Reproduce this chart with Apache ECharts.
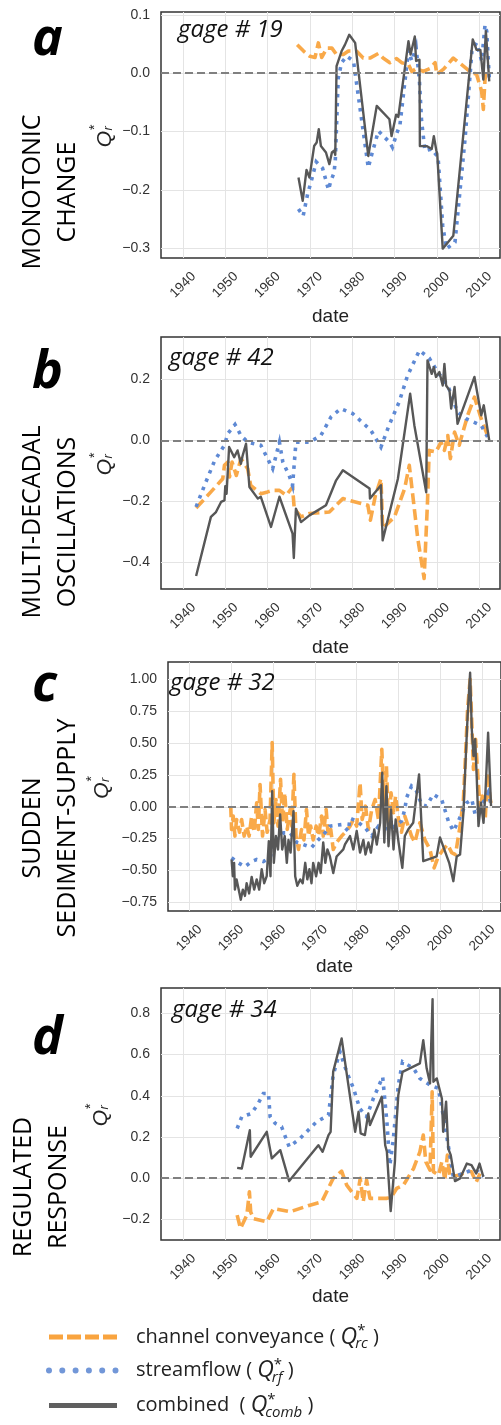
<!DOCTYPE html>
<html><head><meta charset="utf-8">
<script src="https://cdn.jsdelivr.net/npm/echarts@6/dist/echarts.min.js"></script>
<style>html,body{margin:0;padding:0;background:#fff}#c{width:501px;height:1425px}</style>
</head><body><div id="c"></div><script>
// ---------- tick labels ----------
const xTicks = [1940, 1950, 1960, 1970, 1980, 1990, 2000, 2010];
const yTicksA = [-0.3, -0.2, -0.1, 0.0, 0.1];
const yTicksB = [-0.4, -0.2, 0.0, 0.2];
const yTicksC = [-0.75, -0.5, -0.25, 0.0, 0.25, 0.5, 0.75, 1.0];
const yTicksD = [-0.2, 0.0, 0.2, 0.4, 0.6, 0.8];
const panelLetters = ['a', 'b', 'c', 'd'];
const panelTitles = ['MONOTONIC\nCHANGE', 'MULTI-DECADAL\nOSCILLATIONS', 'SUDDEN\nSEDIMENT-SUPPLY', 'REGULATED\nRESPONSE'];
const gageLabels = ['gage # 19', 'gage # 42', 'gage # 32', 'gage # 34'];
const legendNames = ['channel conveyance ( ', 'streamflow ( ', 'combined  ( '];
const legendSubs = ['rc', 'rf', 'comb'];

// ---------- panel a : gage 19 ----------
const convA = [[1967.0,0.049],[1968.5,0.038],[1970.0,0.029],[1971.2,0.027],[1972.0,0.052],[1972.8,0.027],[1974.0,0.043],[1975.2,0.043],[1976.3,0.032],[1977.9,0.032],[1979.1,0.038],[1981.0,0.038],[1982.6,0.026],[1984.2,0.026],[1986.2,0.034],[1987.3,0.026],[1988.9,0.018],[1990.5,0.025],[1991.7,0.018],[1993.3,0.015],[1994.1,0.003],[1995.2,0.008],[1996.8,0.003],[1998.4,0.008],[1999.6,0.018],[2000.0,-0.002],[2001.6,0.007],[2003.9,0.026],[2005.8,0.015],[2007.8,0.003],[2009.4,-0.002],[2010.6,-0.031],[2011.0,-0.062],[2011.4,-0.010],[2011.9,0.008]];
const flowA = [[1967.3,-0.233],[1968.4,-0.245],[1969.5,-0.206],[1970.3,-0.186],[1971.5,-0.152],[1973.0,-0.163],[1974.4,-0.200],[1974.9,-0.186],[1975.7,-0.171],[1976.0,-0.150],[1976.7,-0.008],[1977.5,0.018],[1978.7,0.029],[1980.3,0.021],[1983.8,-0.162],[1984.6,-0.140],[1986.2,-0.099],[1988.9,-0.119],[1989.5,-0.127],[1990.5,-0.104],[1991.3,-0.088],[1993.3,0.039],[1994.1,0.021],[1995.1,0.045],[1995.9,-0.014],[1996.4,-0.082],[1997.2,-0.133],[1998.8,-0.130],[2000.3,-0.144],[2001.4,-0.262],[2002.3,-0.301],[2004.3,-0.290],[2006.7,-0.111],[2008.3,0.038],[2009.4,0.052],[2010.6,0.021],[2011.4,0.083],[2011.8,0.072],[2012.4,-0.008]];
const combA = [[1967.3,-0.179],[1968.3,-0.219],[1969.2,-0.166],[1969.9,-0.179],[1971.0,-0.125],[1971.6,-0.119],[1972.1,-0.096],[1972.6,-0.125],[1973.8,-0.136],[1974.6,-0.156],[1975.2,-0.136],[1975.7,-0.133],[1976.0,-0.140],[1976.3,0.012],[1977.5,0.038],[1978.3,0.049],[1979.3,0.066],[1980.7,0.052],[1983.8,-0.142],[1985.8,-0.056],[1988.8,-0.079],[1989.3,-0.108],[1990.4,-0.071],[1990.9,-0.075],[1993.3,0.055],[1993.8,0.032],[1994.8,0.063],[1995.1,0.021],[1995.9,0.023],[1996.0,-0.125],[1997.6,-0.125],[1998.8,-0.130],[1999.3,-0.108],[1999.9,-0.133],[2000.1,-0.138],[2001.4,-0.301],[2003.9,-0.279],[2008.5,0.058],[2009.4,0.040],[2010.3,0.040],[2011.0,-0.011],[2011.6,0.072],[2011.8,0.072],[2012.4,-0.014]];

// ---------- panel b : gage 42 ----------
const convB = [[1943.1,-0.222],[1946.6,-0.169],[1949.4,-0.126],[1949.8,-0.082],[1950.6,-0.071],[1951.0,-0.120],[1951.6,-0.071],[1952.6,-0.115],[1953.7,-0.060],[1955.3,-0.093],[1956.0,-0.148],[1958.4,-0.175],[1960.0,-0.169],[1961.2,-0.164],[1962.8,-0.164],[1964.4,-0.180],[1965.9,-0.153],[1966.3,-0.224],[1967.9,-0.251],[1969.9,-0.240],[1974.6,-0.235],[1977.8,-0.191],[1983.7,-0.213],[1984.3,-0.262],[1985.5,-0.180],[1986.8,-0.126],[1987.2,-0.289],[1990.0,-0.251],[1992.4,-0.158],[1993.5,-0.082],[1995.5,-0.322],[1997.0,-0.453],[1997.8,-0.202],[1998.2,-0.033],[1999.8,-0.038],[2001.0,-0.006],[2001.8,-0.033],[2002.6,0.016],[2003.2,-0.060],[2004.2,0.027],[2005.3,-0.016],[2007.3,0.082],[2008.9,0.142],[2010.5,0.071],[2012.0,0.016]];
const flowB = [[1943.1,-0.218],[1945.1,-0.147],[1947.5,-0.066],[1949.8,-0.016],[1950.6,0.022],[1952.3,0.052],[1953.7,0.016],[1955.3,-0.006],[1958.4,-0.016],[1960.0,-0.060],[1961.2,-0.093],[1962.8,-0.006],[1963.6,-0.071],[1965.1,-0.115],[1965.9,-0.148],[1966.7,-0.006],[1969.9,-0.006],[1972.6,0.016],[1975.0,0.077],[1977.3,0.104],[1980.1,0.088],[1984.4,0.033],[1986.8,-0.022],[1988.7,0.049],[1991.1,0.126],[1993.1,0.213],[1995.9,0.295],[1998.2,0.270],[2000.2,0.224],[2002.6,0.180],[2004.9,0.093],[2006.9,0.071],[2010.5,0.049],[2012.0,0.011]];
const combB = [[1943.1,-0.445],[1946.6,-0.251],[1947.8,-0.235],[1949.0,-0.202],[1949.8,-0.197],[1950.0,-0.150],[1950.3,-0.175],[1950.9,-0.022],[1952.1,-0.055],[1952.9,-0.033],[1953.7,-0.077],[1954.1,-0.050],[1954.9,-0.011],[1955.7,-0.153],[1957.7,-0.191],[1958.4,-0.185],[1960.8,-0.284],[1962.8,-0.185],[1965.9,-0.306],[1966.2,-0.386],[1966.7,-0.224],[1967.9,-0.268],[1969.9,-0.246],[1973.8,-0.213],[1976.2,-0.131],[1977.8,-0.098],[1984.1,-0.158],[1984.2,-0.191],[1986.8,-0.147],[1987.2,-0.328],[1990.8,-0.126],[1993.7,0.153],[1994.7,0.049],[1997.5,-0.170],[1997.8,0.262],[1998.8,0.218],[1999.3,0.240],[1999.8,0.208],[2000.6,0.224],[2001.4,0.180],[2001.8,0.251],[2002.2,0.180],[2003.0,0.164],[2003.4,0.104],[2004.2,0.175],[2004.9,0.054],[2008.9,0.208],[2010.5,0.082],[2011.1,0.115],[2012.4,0.000]];

// ---------- panel c : gage 32 ----------
const convC = [[1949.9,0.005],[1950.1,-0.178],[1950.5,-0.073],[1950.9,-0.230],[1951.3,-0.100],[1952.0,-0.200],[1952.5,-0.100],[1953.1,-0.230],[1953.7,-0.152],[1954.3,-0.230],[1954.9,-0.073],[1955.5,-0.200],[1956.1,0.031],[1956.5,-0.178],[1956.9,0.175],[1957.5,-0.230],[1958.1,-0.021],[1958.6,-0.200],[1959.3,-0.100],[1959.8,0.503],[1960.2,-0.126],[1960.7,0.057],[1961.2,-0.152],[1961.8,0.215],[1962.3,-0.126],[1962.8,0.110],[1963.4,-0.178],[1964.1,-0.021],[1964.5,-0.152],[1965.0,0.254],[1965.5,-0.230],[1966.1,-0.335],[1966.8,-0.178],[1967.4,-0.260],[1968.0,-0.021],[1968.5,-0.230],[1969.0,-0.152],[1969.6,-0.260],[1970.3,-0.152],[1970.9,-0.230],[1971.6,-0.073],[1972.0,-0.230],[1972.7,-0.021],[1973.2,-0.230],[1973.8,-0.178],[1974.4,-0.335],[1975.2,-0.280],[1976.4,-0.230],[1977.6,-0.190],[1978.4,-0.152],[1979.2,-0.100],[1980.0,-0.152],[1980.8,0.188],[1981.3,-0.100],[1982.1,0.005],[1982.8,-0.178],[1983.6,-0.021],[1984.4,0.057],[1985.2,-0.100],[1986.0,0.450],[1986.6,-0.047],[1987.1,0.319],[1987.6,-0.126],[1988.2,0.110],[1988.8,-0.047],[1989.3,0.084],[1990.0,-0.100],[1990.7,-0.200],[1991.5,-0.073],[1993.1,-0.230],[1993.9,-0.280],[1995.1,-0.126],[1996.3,-0.260],[1997.5,-0.335],[1998.5,-0.480],[1999.5,-0.390],[2000.7,-0.335],[2001.7,-0.296],[2002.7,-0.360],[2003.6,-0.375],[2004.7,-0.152],[2005.5,0.057],[2006.0,0.398],[2006.5,0.765],[2007.1,1.000],[2007.5,0.660],[2007.9,0.293],[2008.4,0.530],[2008.9,0.267],[2009.5,-0.021],[2010.0,0.084],[2010.7,-0.100],[2011.3,0.267],[2011.8,0.084],[2012.2,0.005]];
const flowC = [[1950.1,-0.400],[1951.7,-0.440],[1953.3,-0.470],[1954.9,-0.430],[1956.1,-0.414],[1957.7,-0.430],[1959.3,-0.400],[1960.5,-0.270],[1962.5,-0.205],[1964.1,-0.205],[1965.7,-0.280],[1967.2,-0.296],[1969.2,-0.320],[1970.8,-0.260],[1972.4,-0.205],[1973.6,-0.152],[1976.4,-0.140],[1978.0,-0.190],[1978.4,-0.090],[1980.0,-0.113],[1982.0,-0.165],[1983.6,-0.230],[1985.2,-0.152],[1987.6,-0.178],[1989.1,-0.152],[1990.7,-0.113],[1991.5,-0.021],[1991.9,0.070],[1993.1,0.162],[1994.3,0.123],[1995.5,0.018],[1996.7,0.005],[1998.3,0.097],[2000.3,0.057],[2001.9,-0.113],[2003.1,-0.190],[2004.3,-0.113],[2005.5,-0.021],[2006.3,0.031],[2007.5,0.057],[2008.3,-0.060],[2009.5,0.005],[2010.7,0.057],[2011.4,0.110],[2012.2,0.005]];
const combC = [[1950.1,-0.414],[1950.4,-0.545],[1950.7,-0.440],[1950.9,-0.650],[1951.3,-0.570],[1952.0,-0.680],[1952.3,-0.730],[1952.8,-0.650],[1953.3,-0.700],[1953.7,-0.600],[1954.3,-0.680],[1954.9,-0.550],[1955.5,-0.650],[1956.1,-0.570],[1956.7,-0.650],[1957.3,-0.490],[1957.9,-0.600],[1958.5,-0.545],[1959.0,-0.270],[1959.4,-0.545],[1959.8,0.123],[1960.2,-0.440],[1960.7,-0.230],[1961.2,-0.335],[1961.7,-0.060],[1962.2,-0.335],[1962.8,-0.230],[1963.3,-0.440],[1963.7,-0.260],[1964.2,-0.360],[1964.9,-0.034],[1965.3,-0.545],[1965.8,-0.620],[1966.5,-0.570],[1967.1,-0.600],[1967.7,-0.440],[1968.2,-0.570],[1968.7,-0.490],[1969.2,-0.600],[1969.6,-0.440],[1970.3,-0.545],[1970.9,-0.440],[1971.4,-0.520],[1972.0,-0.280],[1972.5,-0.440],[1973.0,-0.335],[1973.6,-0.390],[1974.4,-0.520],[1975.2,-0.390],[1976.8,-0.335],[1977.2,-0.296],[1978.4,-0.230],[1979.2,-0.335],[1980.0,-0.190],[1980.8,-0.360],[1981.6,-0.260],[1982.1,-0.375],[1982.8,-0.280],[1983.4,-0.360],[1984.2,-0.178],[1984.8,-0.296],[1985.6,-0.126],[1986.1,0.267],[1986.6,-0.280],[1987.1,0.162],[1987.6,-0.310],[1988.2,-0.021],[1988.8,-0.335],[1989.3,-0.100],[1990.0,-0.280],[1990.9,-0.480],[1991.5,-0.230],[1992.3,-0.178],[1993.5,-0.126],[1994.9,0.254],[1995.9,-0.427],[1998.3,-0.400],[1999.1,-0.390],[1999.9,-0.240],[2001.1,-0.350],[2002.1,-0.440],[2003.1,-0.584],[2003.9,-0.390],[2004.7,-0.375],[2005.5,-0.047],[2006.0,0.345],[2006.5,0.712],[2007.1,1.052],[2007.5,0.607],[2007.9,0.398],[2008.3,0.530],[2008.7,0.215],[2009.1,-0.152],[2009.7,0.031],[2010.3,-0.126],[2010.8,0.136],[2011.4,0.581],[2012.1,0.005]];

// ---------- panel d : gage 34 ----------
const convD = [[1952.8,-0.179],[1953.6,-0.244],[1955.1,-0.179],[1955.7,-0.066],[1956.0,-0.163],[1956.6,-0.196],[1959.8,-0.212],[1961.4,-0.147],[1965.3,-0.163],[1970.0,-0.131],[1972.8,-0.115],[1975.5,-0.001],[1977.5,0.034],[1978.7,-0.034],[1979.9,-0.066],[1981.1,-0.098],[1981.9,-0.001],[1982.6,-0.115],[1983.4,-0.009],[1984.2,-0.098],[1988.2,-0.098],[1989.3,-0.090],[1990.5,-0.050],[1992.1,-0.034],[1994.5,0.047],[1996.0,0.128],[1996.8,0.209],[1997.4,0.080],[1998.4,0.039],[1998.9,0.419],[1999.2,0.031],[2000.4,0.015],[2001.2,0.080],[2001.9,-0.009],[2002.5,0.112],[2003.1,0.007],[2005.5,0.015],[2007.1,0.034],[2008.2,0.031],[2009.3,-0.020],[2010.2,0.023]];
const flowD = [[1952.8,0.241],[1953.9,0.298],[1956.2,0.314],[1957.8,0.363],[1959.0,0.411],[1960.2,0.411],[1960.6,0.298],[1961.8,0.266],[1963.3,0.250],[1965.1,0.152],[1967.7,0.193],[1969.6,0.233],[1971.6,0.274],[1974.4,0.306],[1975.5,0.500],[1977.1,0.614],[1978.7,0.516],[1980.3,0.436],[1981.8,0.338],[1983.4,0.298],[1985.0,0.387],[1986.2,0.444],[1987.2,0.492],[1988.2,0.274],[1988.9,0.063],[1989.7,0.185],[1990.9,0.452],[1991.9,0.565],[1994.5,0.533],[1996.0,0.484],[1998.4,0.452],[2000.4,0.436],[2001.9,0.258],[2002.7,0.160],[2003.9,0.007],[2006.3,0.023],[2008.2,0.039],[2009.8,0.031],[2011.0,0.007]];
const combD = [[1952.8,0.050],[1953.9,0.047],[1955.8,0.233],[1956.0,0.104],[1959.8,0.225],[1961.0,0.096],[1963.0,0.136],[1965.1,-0.014],[1972.0,0.160],[1973.0,0.128],[1974.4,0.209],[1974.9,0.225],[1975.5,0.516],[1977.5,0.678],[1980.7,0.225],[1981.5,0.322],[1982.0,0.217],[1983.0,0.209],[1983.8,0.314],[1984.2,0.258],[1987.0,0.395],[1987.8,0.160],[1988.2,0.128],[1989.1,-0.160],[1990.1,0.080],[1990.5,0.274],[1990.9,0.403],[1991.9,0.516],[1996.0,0.557],[1996.8,0.670],[1997.6,0.533],[1998.4,0.460],[1999.0,0.869],[1999.2,0.468],[2000.0,0.484],[2001.2,0.387],[2001.5,0.225],[2002.2,0.371],[2002.7,0.144],[2003.3,0.112],[2004.3,-0.014],[2005.5,-0.001],[2007.1,0.071],[2008.2,0.063],[2009.3,0.023],[2010.1,0.071],[2011.0,0.007]];

// ---------- layout ----------
const convData = [convA, convB, convC, convD];
const flowData = [flowA, flowB, flowC, flowD];
const combData = [combA, combB, combC, combD];
const yTickSets = [yTicksA, yTicksB, yTicksC, yTicksD];
const yDecimals = [1, 1, 2, 1];
const gridRects = [
  {left: 161, top: 12, width: 339, height: 246},
  {left: 161, top: 337, width: 339, height: 252},
  {left: 168, top: 662, width: 333, height: 249},
  {left: 161, top: 988, width: 339, height: 252}
];
const xRanges = [[1934.8, 2014.94], [1934.8, 2014.94], [1934.91, 2014.48], [1934.8, 2014.94]];
const yRanges = [[-0.317, 0.105], [-0.4875, 0.339], [-0.818, 1.136], [-0.300, 0.923]];
const dateGap = [49, 49, 46, 47];

const C_ORANGE = '#F9A43F', C_BLUE = '#5E89D4', C_GRAY = '#575757';
const fmtY = (dec) => (v) => { const s = Math.abs(v).toFixed(dec); return v < -1e-9 ? '\u2212' + s : s; };

const grids = [], xAxes = [], yAxes = [], series = [], graphics = [];
for (let i = 0; i < 4; i++) {
  grids.push(Object.assign({show: true, borderColor: '#333', borderWidth: 1.5, backgroundColor: 'transparent', containLabel: false, outerBoundsMode: 'none'}, gridRects[i]));
  xAxes.push({
    type: 'value', gridIndex: i, min: xRanges[i][0], max: xRanges[i][1],
    name: 'date', nameLocation: 'middle', nameGap: dateGap[i],
    nameTextStyle: {fontSize: 19, color: '#222', fontFamily: 'Liberation Sans'},
    axisLine: {show: false}, axisTick: {show: false, customValues: xTicks},
    axisLabel: {customValues: xTicks, rotate: 45, align: 'center', verticalAlign: 'middle', margin: 27,
      fontSize: 13.5, color: '#333', fontFamily: 'Liberation Sans', formatter: (v) => String(Math.round(v))},
    splitLine: {show: true, lineStyle: {color: '#e4e4e4', width: 1}}
  });
  yAxes.push({
    type: 'value', gridIndex: i, min: yRanges[i][0], max: yRanges[i][1],
    axisLine: {show: false}, axisTick: {show: false, customValues: yTickSets[i]},
    axisLabel: {customValues: yTickSets[i], margin: 11, fontSize: 14, color: '#333', fontFamily: 'Liberation Sans', formatter: fmtY(yDecimals[i])},
    splitLine: {show: true, lineStyle: {color: '#e4e4e4', width: 1}}
  });
  series.push({
    type: 'line', xAxisIndex: i, yAxisIndex: i, data: convData[i], showSymbol: false, symbol: 'none', z: 2,
    lineStyle: {color: C_ORANGE, width: 3.6, type: [11, 5], cap: 'butt', join: 'round', opacity: 0.95},
    markLine: {silent: true, symbol: 'none', label: {show: false}, animation: false,
      lineStyle: {color: '#808080', type: [8, 4], width: 1.8}, data: [{yAxis: 0}]}
  });
  series.push({
    type: 'line', xAxisIndex: i, yAxisIndex: i, data: flowData[i], showSymbol: false, symbol: 'none', z: 3,
    lineStyle: {color: C_BLUE, width: 3.6, type: [3.5, 5.5], cap: 'butt', join: 'miter'}
  });
  series.push({
    type: 'line', xAxisIndex: i, yAxisIndex: i, data: combData[i], showSymbol: false, symbol: 'none', z: 4,
    lineStyle: {color: C_GRAY, width: 2.4, join: 'round'}
  });
}

// ---------- text decorations ----------
const letterBase = [60, 393, 706, 1059];
const titleCenter = [[50.5, 192], [50.5, 522], [50.5, 828], [41.5, 1187]];
const gagePos = [[178, 39], [169, 367], [170, 692], [172, 1019]];
const qPos = [105, 105, 102, 101];
for (let i = 0; i < 4; i++) {
  graphics.push({type: 'text', x: 32, y: letterBase[i] - 20, z: 100,
    style: {text: panelLetters[i], fontSize: 52, fontWeight: 'bold', fontStyle: 'italic', fontFamily: 'Open Sans', fill: '#000', align: 'left', verticalAlign: 'middle'}});
  graphics.push({type: 'text', x: titleCenter[i][0], y: titleCenter[i][1], rotation: Math.PI / 2, z: 100,
    style: {text: panelTitles[i], fontSize: 25, fontFamily: 'Open Sans', fill: '#000', align: 'center', verticalAlign: 'middle', lineHeight: 35}});
  graphics.push({type: 'text', x: gagePos[i][0], y: gagePos[i][1] - 9, z: 100,
    style: {text: gageLabels[i], fontSize: 24, fontStyle: 'italic', fontFamily: 'Open Sans', fill: '#111', align: 'left', verticalAlign: 'middle'}});
  const cy = gridRects[i].top + gridRects[i].height / 2 + 4;
  graphics.push({type: 'group', x: qPos[i], y: cy, rotation: Math.PI / 2, z: 100, children: [
    {type: 'text', x: 0, y: 0, style: {text: 'Q', fontSize: 21, fontStyle: 'italic', fontFamily: 'Liberation Sans', fill: '#222', align: 'center', verticalAlign: 'middle'}},
    {type: 'text', x: 9, y: -10, style: {text: '*', fontSize: 14, fontFamily: 'Liberation Sans', fill: '#222', align: 'left', verticalAlign: 'middle'}},
    {type: 'text', x: 8.5, y: 3.5, style: {text: 'r', fontSize: 13, fontStyle: 'italic', fontFamily: 'Liberation Sans', fill: '#222', align: 'left', verticalAlign: 'middle'}}
  ]});
}

// ---------- legend (drawn) ----------
const mctx = document.createElement('canvas').getContext('2d');
const tw = (t, font) => { mctx.font = font; return mctx.measureText(t).width; };
const rowY = [1337, 1370.5, 1405.5];
const swatchStyles = [
  {stroke: C_ORANGE, lineWidth: 5, lineDash: [14, 4], lineCap: 'butt'},
  {stroke: '#7297D8', lineWidth: 6, lineDash: [0, 13.3], lineCap: 'round'},
  {stroke: '#5f5f5f', lineWidth: 5, lineCap: 'butt'}
];
for (let r = 0; r < 3; r++) {
  const y = rowY[r];
  graphics.push({type: 'line', z: 100, shape: {x1: 49, y1: y, x2: 117, y2: y}, style: swatchStyles[r]});
  const x0 = 136;
  const baseFont = '20px "Open Sans"';
  graphics.push({type: 'text', x: x0, y: y, z: 100, style: {text: legendNames[r], fontSize: 20, fontFamily: 'Open Sans', fill: '#222', align: 'left', verticalAlign: 'middle'}});
  const qx = x0 + tw(legendNames[r], baseFont);
  graphics.push({type: 'text', x: qx, y: y, z: 100, style: {text: 'Q', fontSize: 23, fontStyle: 'italic', fontFamily: 'Open Sans', fill: '#222', align: 'left', verticalAlign: 'middle'}});
  const qw = tw('Q', 'italic 23px "Open Sans"');
  const sx = qx + qw;
  graphics.push({type: 'text', x: sx, y: y - 6, z: 100, style: {text: '*', fontSize: 15, fontFamily: 'Open Sans', fill: '#222', align: 'left', verticalAlign: 'middle'}});
  const bx = qx + qw - 2;
  graphics.push({type: 'text', x: bx, y: y + 7, z: 100, style: {text: legendSubs[r], fontSize: 15, fontStyle: 'italic', fontFamily: 'Open Sans', fill: '#222', align: 'left', verticalAlign: 'middle'}});
  const endx = Math.max(sx + tw('*', '15px "Open Sans"'), bx + tw(legendSubs[r], 'italic 15px "Open Sans"'));
  graphics.push({type: 'text', x: endx, y: y, z: 100, style: {text: ' )', fontSize: 20, fontFamily: 'Open Sans', fill: '#222', align: 'left', verticalAlign: 'middle'}});
}

const chart = echarts.init(document.getElementById('c'), null, {renderer: 'canvas', width: 501, height: 1425});
chart.setOption({
  animation: false,
  backgroundColor: '#ffffff',
  grid: grids, xAxis: xAxes, yAxis: yAxes, series: series, graphic: graphics
});
</script></body></html>
